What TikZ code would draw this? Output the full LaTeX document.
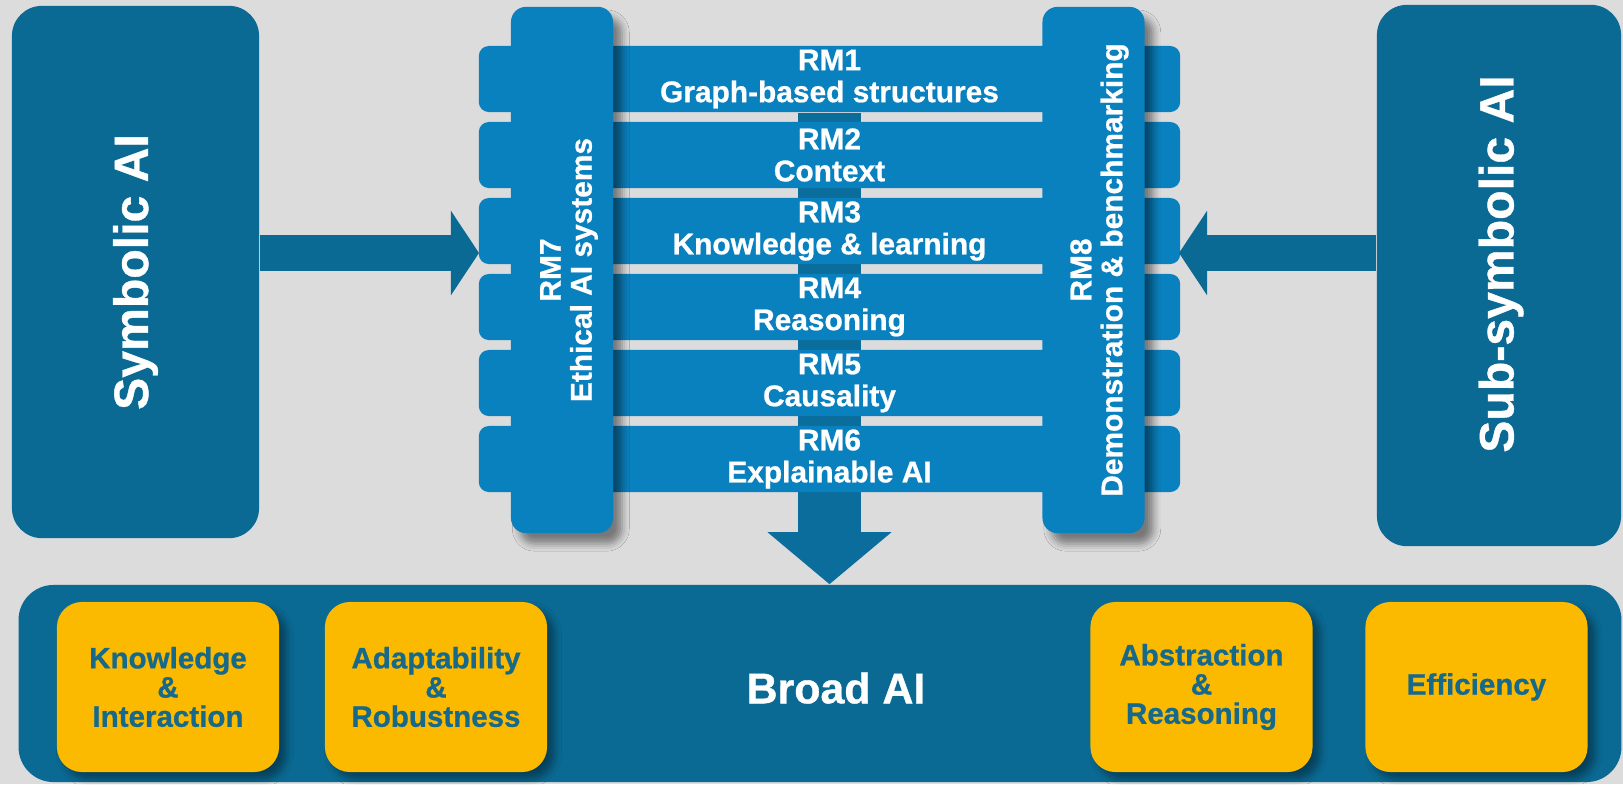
\documentclass[tikz,border=0pt]{standalone}
\usepackage{fontspec}
\setmainfont{Liberation Sans}[BoldFeatures={FakeBold=0.8}]
\usetikzlibrary{positioning,arrows.meta,shadows.blur}
\definecolor{canvas}{HTML}{DCDCDC}
\definecolor{deep}{HTML}{0A6A94}
\definecolor{spine}{HTML}{0B6D9B}
\definecolor{bright}{HTML}{0A81BF}
\definecolor{gold}{HTML}{FBBA00}
\definecolor{ink}{HTML}{17698C}
\pgfdeclarelayer{back}
\pgfsetlayers{back,main}

\tikzset{
  side/.style={fill=deep, rounded corners=0.3cm, inner sep=0pt},
  sidetext/.style={text=white, rotate=90, font=\bfseries\fontsize{13.7}{15}\selectfont},
  rmbar/.style={fill=bright, rounded corners=0.1cm, minimum width=7.01cm, minimum height=0.66cm,
    inner sep=0pt, text=white, align=center, font=\bfseries\fontsize{8.5}{9.1}\selectfont},
  pillar/.style={fill=bright, rounded corners=0.15cm, minimum width=1.02cm, minimum height=5.26cm,
    inner sep=0pt, blur shadow={shadow xshift=2.5pt, shadow yshift=-3pt, shadow opacity=45}},
  pillartext/.style={text=white, rotate=90, align=center, font=\bfseries\fontsize{8.5}{8.8}\selectfont},
  goal/.style={fill=gold, rounded corners=0.25cm, minimum width=2.22cm, minimum height=1.70cm,
    inner sep=0pt, text=ink, align=center, font=\bfseries\fontsize{8.4}{8.3}\selectfont,
    blur shadow={shadow xshift=2pt, shadow yshift=-2pt, shadow opacity=40}},
  sidearrow/.style={deep, line width=0.35cm, -{Triangle[width=0.83cm,length=0.28cm]}},
  downarrow/.style={spine, line width=0.62cm, -{Triangle[width=1.21cm,length=0.52cm]}},
}

\begin{document}
\begin{tikzpicture}[x=0.01cm, y=-0.01cm]
  \useasboundingbox (0,0) rectangle (1623,784);

  % Symbolic and sub-symbolic AI
  \node[side, minimum width=2.47cm, minimum height=5.32cm] (sym) at (135.5,272) {};
  \node[sidetext] (symtxt) at (sym) {Symbolic AI};
  \node[side, minimum width=2.44cm, minimum height=5.41cm] (sub) at (1499,275.5) {};
  \node[sidetext] (subtxt) at (1501,264) {Sub-symbolic AI};

  % Research modules
  \foreach \i/\txt in {1/Graph-based structures, 2/Context, 3/Knowledge \& learning,
      4/Reasoning, 5/Causality, 6/Explainable AI}
    \node[rmbar] (rm\i) at (829.5,{3+76*\i}) {RM\i\\\txt};

  % Cross-cutting modules
  \node[pillar] (rm7) at (562,270) {};
  \node[pillartext] (rm7txt) at ([xshift=0.07cm]rm7.center) {RM7\\Ethical AI systems};
  \node[pillar] (rm8) at (1093.5,270) {};
  \node[pillartext] (rm8txt) at ([xshift=0.06cm]rm8.center) {RM8\\Demonstration \& benchmarking};

  % Inputs
  \coordinate (leftin) at (479,253);
  \coordinate (rightin) at (1179,253);
  \draw[sidearrow] (sym.east |- leftin) -- (leftin);
  \draw[sidearrow] (sub.west |- rightin) -- (rightin);

  % Broad AI
  \node[side, rounded corners=0.35cm, minimum width=16.02cm, minimum height=1.97cm] (broad) at (820,683.5) {};
  \node[text=white, font=\bfseries\fontsize{12.2}{14}\selectfont] (broadtxt) at (836,688) {Broad AI};

  \foreach \x/\nm/\txt in {168/know/Knowledge\\\&\\Interaction, 436/adapt/Adaptability\\\&\\Robustness,
      1201.5/abstr/Abstraction\\\&\\Reasoning, 1476.5/effic/Efficiency}
    \node[goal] (\nm) at (\x,687) {\txt};

  % Backdrop and output arrow
  \begin{pgfonlayer}{back}
    \fill[canvas] (0,0) rectangle (1623,784);
    \draw[downarrow] (rm1.south) -- (rm1.south |- broad.north);
  \end{pgfonlayer}
\end{tikzpicture}
\end{document}
